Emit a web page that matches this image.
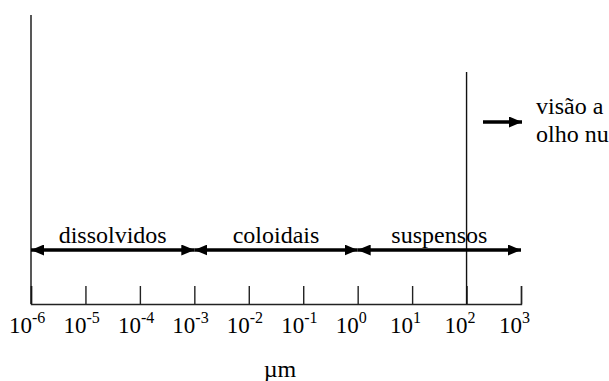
<!DOCTYPE html>
<html>
<head>
<meta charset="utf-8">
<script src="https://cdn.jsdelivr.net/npm/d3@7"></script>
<style>
  body { margin: 0; background: #fff; font-family: "Liberation Serif", serif; }
</style>
</head>
<body>
<script>
const w = 609;
const h = 381;

// data
const exponents = [-6, -5, -4, -3, -2, -1, 0, 1, 2, 3];
const classes = ["dissolvidos", "coloidais", "suspensos"];
const classFrom = [-6, -3, 0];
const classTo = [-3, 0, 3];
const visionLimit = 2;
const visionLabel = ["visão a", "olho nu"];
const unitLabel = "µm";

const serif = "Liberation Serif";

const svg = d3
  .select("body")
  .append("svg")
  .attr("width", w)
  .attr("height", h)
  .attr("font-family", serif);

const x = d3
  .scaleLog()
  .domain([1e-6, 1e3])
  .range([31, 521]);

const baseY = 304;

// arrow marker heads
const defs = svg.append("defs");
defs
  .append("marker")
  .attr("id", "head")
  .attr("viewBox", "0 0 13 11")
  .attr("refX", 13)
  .attr("refY", 5.5)
  .attr("markerWidth", 13)
  .attr("markerHeight", 11)
  .attr("markerUnits", "userSpaceOnUse")
  .attr("orient", "auto-start-reverse")
  .append("path")
  .attr("d", "M0,0L13,5.5L0,11Z")
  .attr("fill", "#000");

// axis
const xAxis = d3
  .axisBottom(x)
  .tickValues(exponents.map(e => Math.pow(10, e)))
  .tickFormat("")
  .tickSizeInner(-18)
  .tickSizeOuter(-18);

svg
  .append("g")
  .attr("transform", "translate(0," + baseY + ")")
  .call(xAxis)
  .call(g => g.selectAll("path, line").attr("stroke", "#222").attr("stroke-width", 1.4));

// left vertical line
svg
  .append("line")
  .attr("x1", x(1e-6))
  .attr("x2", x(1e-6))
  .attr("y1", 15)
  .attr("y2", baseY)
  .attr("stroke", "#111")
  .attr("stroke-width", 1.4);

// vision limit line
svg
  .append("line")
  .attr("x1", x(Math.pow(10, visionLimit)))
  .attr("x2", x(Math.pow(10, visionLimit)))
  .attr("y1", 72)
  .attr("y2", baseY)
  .attr("stroke", "#111")
  .attr("stroke-width", 1.4);

// tick labels 10^n, "10" starts a bit left of each tick
const labels = svg
  .selectAll(".tick-label")
  .data(exponents)
  .enter()
  .append("text")
  .attr("class", "tick-label")
  .attr("x", d => x(Math.pow(10, d)) - 22)
  .attr("y", 333)
  .attr("font-family", serif)
  .attr("font-size", 23);

labels.append("tspan").text("10");
labels
  .append("tspan")
  .attr("dy", -10)
  .attr("font-size", 16)
  .text(d => d);

// unit
svg
  .append("text")
  .attr("x", 280)
  .attr("y", 377)
  .attr("text-anchor", "middle")
  .attr("font-family", serif)
  .attr("font-size", 24)
  .text(unitLabel);

// class arrows
svg
  .selectAll(".class-arrow")
  .data(classes)
  .enter()
  .append("line")
  .attr("class", "class-arrow")
  .attr("x1", (d, i) => x(Math.pow(10, classFrom[i])))
  .attr("x2", (d, i) => x(Math.pow(10, classTo[i])))
  .attr("y1", 250)
  .attr("y2", 250)
  .attr("stroke", "#000")
  .attr("stroke-width", 3.5)
  .attr("marker-start", "url(#head)")
  .attr("marker-end", "url(#head)");

svg
  .selectAll(".class-label")
  .data(classes)
  .enter()
  .append("text")
  .attr("class", "class-label")
  .attr("x", (d, i) => (x(Math.pow(10, classFrom[i])) + x(Math.pow(10, classTo[i]))) / 2)
  .attr("y", 243)
  .attr("text-anchor", "middle")
  .attr("font-family", serif)
  .attr("font-size", 24)
  .text(d => d);

// vision arrow
svg
  .append("line")
  .attr("x1", 483)
  .attr("x2", 522)
  .attr("y1", 122)
  .attr("y2", 122)
  .attr("stroke", "#000")
  .attr("stroke-width", 3.5)
  .attr("marker-end", "url(#head)");

svg
  .selectAll(".vision-label")
  .data(visionLabel)
  .enter()
  .append("text")
  .attr("class", "vision-label")
  .attr("x", 536)
  .attr("y", (d, i) => 114 + i * 28)
  .attr("font-family", serif)
  .attr("font-size", 24)
  .text(d => d);
</script>
</body>
</html>
